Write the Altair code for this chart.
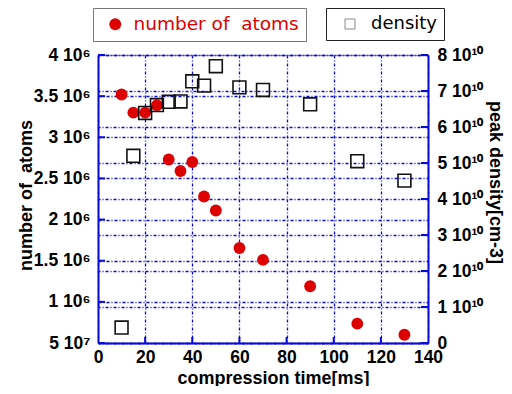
import altair as alt
import pandas as pd

# ---- data ----
time_ms = [10, 15, 20, 25, 30, 35, 40, 45, 50, 60, 70, 90, 110, 130]
atoms = [3.52e6, 3.30e6, 3.30e6, 3.39e6, 2.73e6, 2.59e6, 2.70e6, 2.28e6, 2.11e6,
         1.655e6, 1.51e6, 1.19e6, 0.735e6, 0.60e6]
density = [0.43e10, 5.2e10, 6.39e10, 6.61e10, 6.7e10, 6.71e10, 7.27e10, 7.15e10,
           7.69e10, 7.10e10, 7.03e10, 6.63e10, 5.05e10, 4.51e10]

x_ticks = [0, 20, 40, 60, 80, 100, 120, 140]
left_ticks = [5e5, 1e6, 1.5e6, 2e6, 2.5e6, 3e6, 3.5e6, 4e6]
right_ticks = [0, 1e10, 2e10, 3e10, 4e10, 5e10, 6e10, 7e10, 8e10]

atoms_label = "number of\u00a0 atoms"
density_label = "density"

W, H = 330, 288
BLUE = "#0a0ad8"
RED = "#dd0000"
DASH = [3, 2, 1, 2]
LBL = dict(labelFont="Liberation Sans", labelFontWeight="bold", labelFontSize=17.5,
           labelColor="black", titleFont="Liberation Sans", titleFontWeight="bold",
           titleColor="black")

df_a = pd.DataFrame({"time": time_ms, "atoms": atoms, "s1": atoms_label})
df_d = pd.DataFrame({"time": time_ms, "density": density, "s2": density_label})
df_lt = pd.DataFrame({"atoms": left_ticks})
df_rt = pd.DataFrame({"density": right_ticks})
df_xt = pd.DataFrame({"time": x_ticks[1:-1]})

x_enc = alt.X(
    "time:Q",
    scale=alt.Scale(domain=[0, 140], nice=False),
    axis=alt.Axis(
        values=x_ticks, title="compression time[ms]", grid=True, gridColor=BLUE,
        gridDash=DASH, gridWidth=1.3, ticks=False, tickSize=0, labelPadding=5,
        labelFlush=False, labelOverlap=False, domainColor=BLUE, domainWidth=2,
        titleX=175, titleY=35, titleBaseline="middle", titleAlign="center",
        titleFontSize=18, **LBL,
    ),
)

y_left = alt.Y(
    "atoms:Q",
    scale=alt.Scale(domain=[5e5, 4e6], nice=False, zero=False),
    axis=alt.Axis(
        orient="left", values=left_ticks, grid=True, gridColor=BLUE, gridDash=DASH,
        gridWidth=1.3, ticks=False, tickSize=0, labelPadding=8, labelOverlap=False,
        labelFlush=False, domainColor=BLUE, domainWidth=2,
        labelExpr="datum.value < 900000 ? '5 10\u2077' : format(datum.value / 1000000, '') + ' 10\u2076'",
        title=atoms_label, titleAngle=270, titleX=-72, titleY=140,
        titleBaseline="middle", titleAlign="center", titleFontSize=18, **LBL,
    ),
)

y_right = alt.Y(
    "density:Q",
    scale=alt.Scale(domain=[0, 8e10], nice=False),
    axis=alt.Axis(
        orient="right", values=right_ticks, grid=True, gridColor=BLUE, gridDash=DASH,
        gridWidth=1.3, ticks=False, tickSize=0, labelPadding=9, labelOverlap=False,
        labelFlush=False, domainColor=BLUE, domainWidth=2,
        labelExpr="datum.value == 0 ? '0' : format(datum.value / 10000000000, 'd') + ' 10\u00b9\u2070'",
        title="peak density[cm-3]", titleAngle=90, titleX=66, titleY=127,
        titleBaseline="middle", titleAlign="center", titleFontSize=18, **LBL,
    ),
)

atoms_pts = alt.Chart(df_a).mark_circle(size=140, opacity=1).encode(
    x=x_enc,
    y=y_left,
    color=alt.Color(
        "s1:N",
        scale=alt.Scale(domain=[atoms_label], range=[RED]),
        legend=alt.Legend(
            title=None, orient="none", legendX=-5, legendY=-47, strokeColor="#777",
            padding=7, labelFont="DejaVu Sans", labelFontSize=18.5, labelFontWeight="normal",
            labelColor=RED, labelLimit=400, symbolSize=140, symbolType="circle",
            symbolOffset=6, labelOffset=9, fillColor="white",
        ),
    ),
)
left_tick_marks = alt.Chart(df_lt).mark_rule(color=BLUE, strokeWidth=2).encode(
    y=y_left, x=alt.value(0), x2=alt.value(7)
)

dens_pts = alt.Chart(df_d).mark_point(size=165, filled=False, strokeWidth=1.6, opacity=1).encode(
    x=x_enc,
    y=y_right,
    color=alt.value("#111111"),
    shape=alt.Shape(
        "s2:N",
        scale=alt.Scale(domain=[density_label], range=["square"]),
        legend=alt.Legend(
            title=None, orient="none", legendX=228, legendY=-47, strokeColor="#222",
            padding=7, labelFont="DejaVu Sans", labelFontSize=18, labelFontWeight="normal",
            labelColor="black", labelLimit=400, symbolSize=100, symbolStrokeColor="#888",
            symbolStrokeWidth=1, symbolOffset=8, labelOffset=12, fillColor="white",
        ),
    ),
)
right_tick_marks = alt.Chart(df_rt).mark_rule(color=BLUE, strokeWidth=2).encode(
    y=y_right, x=alt.value(W), x2=alt.value(W - 7)
)

bottom_tick_marks = alt.Chart(df_xt).mark_rule(color=BLUE, strokeWidth=2).encode(
    x=x_enc, y=alt.value(H), y2=alt.value(H - 6)
)

chart = alt.layer(
    alt.layer(left_tick_marks, atoms_pts),
    alt.layer(right_tick_marks, dens_pts),
    bottom_tick_marks,
).resolve_scale(y="independent", color="independent", shape="independent").resolve_legend(
    color="independent", shape="independent"
).properties(
    width=W, height=H,
    autosize=alt.AutoSizeParams(type="none"),
    padding={"left": 90, "top": 47, "right": 76, "bottom": 43},
).configure_view(
    stroke=BLUE, strokeWidth=2
).configure(background="white")

chart.save("out.html", embed_options={"renderer": "svg", "actions": False})
